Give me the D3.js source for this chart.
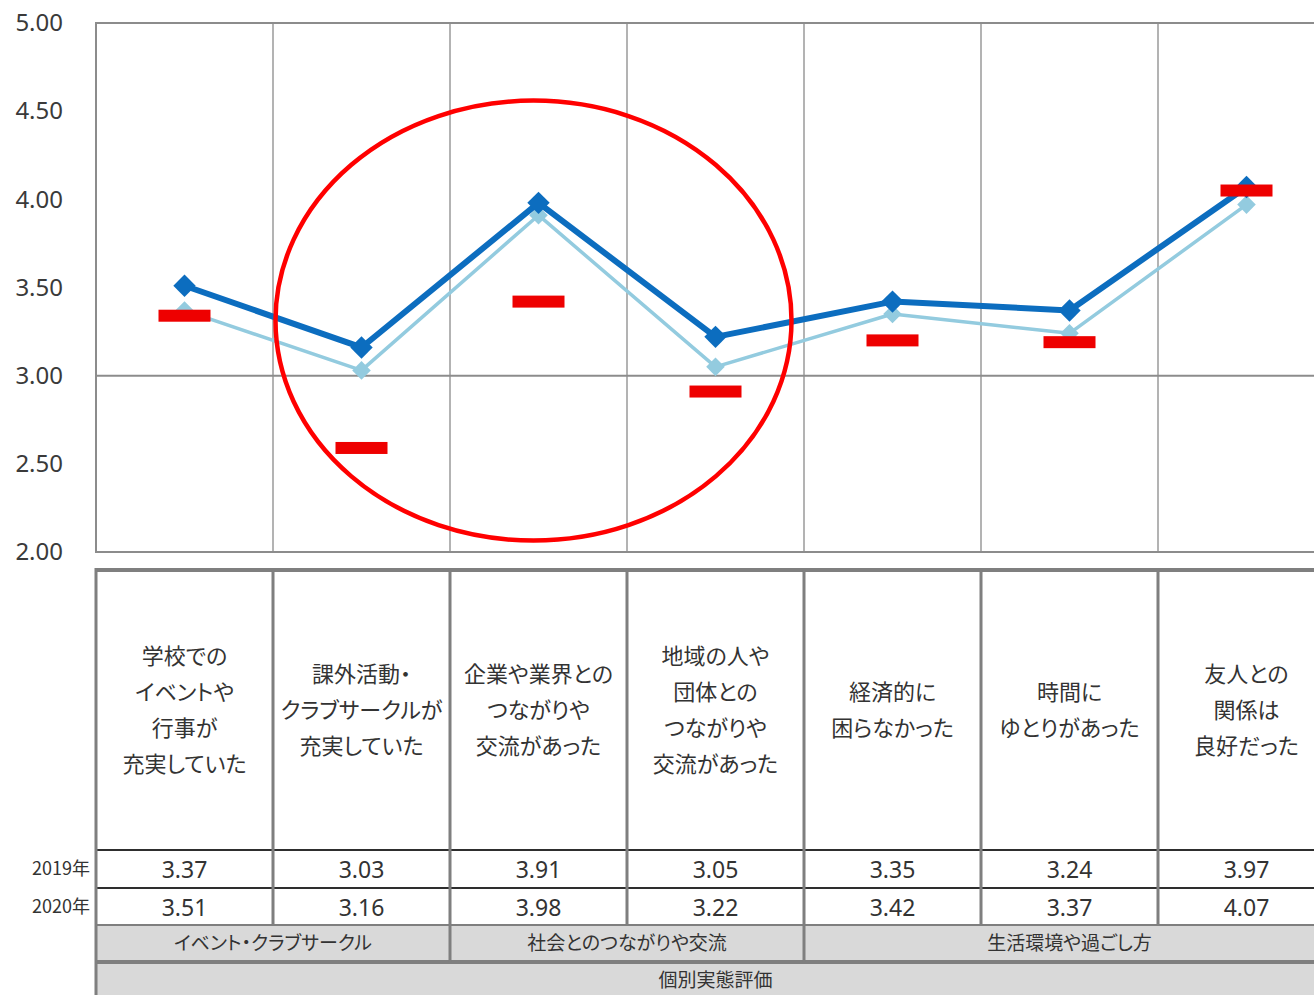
<!DOCTYPE html>
<html>
<head>
<meta charset="utf-8">
<script src="https://cdn.jsdelivr.net/npm/d3@7"></script>
<style>
  html, body { margin: 0; padding: 0; background: #fff; overflow: hidden; }
  svg { display: block; font-family: "Noto Sans CJK JP", "Noto Sans", sans-serif; }
  .jp { font-feature-settings: "palt" 1; }
</style>
</head>
<body>
<svg id="chart" width="1314" height="995"></svg>
<script>
// Survey items (each label split into its display lines)
const categories = [
  ["学校での", "イベントや", "行事が", "充実していた"],
  ["課外活動・", "クラブサークルが", "充実していた"],
  ["企業や業界との", "つながりや", "交流があった"],
  ["地域の人や", "団体との", "つながりや", "交流があった"],
  ["経済的に", "困らなかった"],
  ["時間に", "ゆとりがあった"],
  ["友人との", "関係は", "良好だった"]
];
const seriesNames = ["2019年", "2020年"];
const values2019 = [3.37, 3.03, 3.91, 3.05, 3.35, 3.24, 3.97];
const values2020 = [3.51, 3.16, 3.98, 3.22, 3.42, 3.37, 4.07];
const referenceValues = [3.34, 2.59, 3.42, 2.91, 3.20, 3.19, 4.05];
const yTicks = [2.00, 2.50, 3.00, 3.50, 4.00, 4.50, 5.00];
const groupLabels = ["イベント・クラブサークル", "社会とのつながりや交流", "生活環境や過ごし方"];
const groupSpans = [[0, 1], [2, 3], [4, 6]];
const overallLabel = "個別実態評価";

const svg = d3.select("#chart");
const left = 96, colW = 177;
const plotTop = 23, plotBottom = 552;
const right = left + colW * categories.length;

const x = d3.scaleBand().domain(d3.range(categories.length)).range([left, right]).padding(0);
const y = d3.scaleLinear().domain([2, 5]).range([plotBottom, plotTop]);
const cx = i => x(i) + x.bandwidth() / 2;

const gridColor = "#8c8c8c";

// ---------- plot area ----------
const plot = svg.append("g");

// vertical separators between items
plot.selectAll("line.vgrid").data(d3.range(1, categories.length + 1)).join("line")
  .attr("x1", i => x(i) ?? right).attr("x2", i => x(i) ?? right)
  .attr("y1", plotTop).attr("y2", plotBottom)
  .attr("stroke", "#9a9a9a").attr("stroke-width", 1.5);

// reference line at 3.00
plot.append("line")
  .attr("x1", left).attr("x2", right)
  .attr("y1", y(3)).attr("y2", y(3))
  .attr("stroke", gridColor).attr("stroke-width", 2);

// frame
plot.append("line").attr("x1", left).attr("x2", right).attr("y1", plotTop).attr("y2", plotTop)
  .attr("stroke", gridColor).attr("stroke-width", 2);
plot.append("line").attr("x1", left).attr("x2", right).attr("y1", plotBottom).attr("y2", plotBottom)
  .attr("stroke", gridColor).attr("stroke-width", 2);
plot.append("line").attr("x1", left).attr("x2", left).attr("y1", plotTop - 1).attr("y2", plotBottom + 1)
  .attr("stroke", gridColor).attr("stroke-width", 2);

// y axis labels
const yAxis = d3.axisLeft(y).tickValues(yTicks).tickFormat(d3.format(".2f")).tickSize(0).tickPadding(33);
const yG = svg.append("g").attr("transform", `translate(${left},0)`).call(yAxis);
yG.select(".domain").remove();
yG.selectAll("text")
  .attr("font-size", 24).attr("fill", "#3a3a3a")
  .attr("font-family", "'Noto Sans', sans-serif");

// lines
const line = d3.line().x((d, i) => cx(i)).y(d => y(d));
const diamond = d3.symbol().type(d3.symbolDiamond2);

plot.append("path").datum(values2019)
  .attr("d", line).attr("fill", "none")
  .attr("stroke", "#93cbdf").attr("stroke-width", 3.5).attr("stroke-linejoin", "round");
plot.selectAll("path.m2019").data(values2019).join("path")
  .attr("transform", (d, i) => `translate(${cx(i)},${y(d)})`)
  .attr("d", diamond.size(220)).attr("fill", "#93cbdf");

plot.append("path").datum(values2020)
  .attr("d", line).attr("fill", "none")
  .attr("stroke", "#0c6dbf").attr("stroke-width", 6).attr("stroke-linejoin", "round");
plot.selectAll("path.m2020").data(values2020).join("path")
  .attr("transform", (d, i) => `translate(${cx(i)},${y(d)})`)
  .attr("d", diamond.size(320)).attr("fill", "#0c6dbf");

// reference dashes
plot.selectAll("rect.ref").data(referenceValues).join("rect")
  .attr("x", (d, i) => cx(i) - 26).attr("y", d => y(d) - 6)
  .attr("width", 52).attr("height", 12)
  .attr("fill", "#ee0000");

// highlight ellipse around the social-connection items
const ellTop = y(4.56), ellBottom = y(2.065);
plot.append("ellipse")
  .attr("cx", (cx(1) + cx(3)) / 2 - 5).attr("cy", (ellTop + ellBottom) / 2)
  .attr("rx", 258).attr("ry", (ellBottom - ellTop) / 2)
  .attr("fill", "none").attr("stroke", "#ff0000").attr("stroke-width", 4.5);

// ---------- data table ----------
const tTop = 570, tLabelBottom = 850, tRow1 = 888, tRow2 = 925, tGroupBottom = 962, tBottom = 995;
const tableLine = "#7f7f7f";
const table = svg.append("g");

// grey background rows
table.append("rect").attr("x", left).attr("y", tRow2).attr("width", right - left).attr("height", tGroupBottom - tRow2).attr("fill", "#d9d9d9");
table.append("rect").attr("x", left).attr("y", tGroupBottom).attr("width", right - left).attr("height", tBottom - tGroupBottom).attr("fill", "#d9d9d9");

// row rules
table.append("line").attr("x1", left).attr("x2", right).attr("y1", tLabelBottom).attr("y2", tLabelBottom).attr("stroke", "#2e2e2e").attr("stroke-width", 2);
table.append("line").attr("x1", left).attr("x2", right).attr("y1", tRow1).attr("y2", tRow1).attr("stroke", "#2e2e2e").attr("stroke-width", 2);
table.append("line").attr("x1", left).attr("x2", right).attr("y1", tRow2).attr("y2", tRow2).attr("stroke", tableLine).attr("stroke-width", 2);
table.append("line").attr("x1", left).attr("x2", right).attr("y1", tGroupBottom).attr("y2", tGroupBottom).attr("stroke", tableLine).attr("stroke-width", 4);
table.append("line").attr("x1", left).attr("x2", right).attr("y1", tTop).attr("y2", tTop).attr("stroke", tableLine).attr("stroke-width", 4);

// column rules
table.selectAll("line.col").data(d3.range(1, categories.length)).join("line")
  .attr("x1", i => x(i)).attr("x2", i => x(i))
  .attr("y1", tTop).attr("y2", tRow2)
  .attr("stroke", tableLine).attr("stroke-width", 3);
table.selectAll("line.grp").data(groupSpans.slice(1)).join("line")
  .attr("x1", d => x(d[0])).attr("x2", d => x(d[0]))
  .attr("y1", tRow2).attr("y2", tGroupBottom)
  .attr("stroke", tableLine).attr("stroke-width", 3);
table.append("line").attr("x1", left).attr("x2", left).attr("y1", tTop - 2).attr("y2", tBottom)
  .attr("stroke", tableLine).attr("stroke-width", 3);

// item labels
const lineH = 36;
const labelMid = (tTop + tLabelBottom) / 2;
categories.forEach((lines, i) => {
  const t = table.append("text").attr("class", "jp")
    .attr("text-anchor", "middle").attr("font-size", 22).attr("fill", "#333");
  const y0 = labelMid - (lines.length - 1) * lineH / 2;
  lines.forEach((s, k) => {
    t.append("tspan").attr("x", cx(i)).attr("y", y0 + k * lineH).attr("dy", "0.35em").text(s);
  });
});

// value rows
[values2019, values2020].forEach((vals, r) => {
  const ym = r === 0 ? (tLabelBottom + tRow1) / 2 : (tRow1 + tRow2) / 2;
  table.append("text").attr("class", "jp")
    .attr("x", 90).attr("y", ym).attr("dy", "0.35em")
    .attr("text-anchor", "end").attr("font-size", 18).attr("fill", "#333")
    .text(seriesNames[r]);
  table.selectAll(null).data(vals).join("text")
    .attr("x", (d, i) => cx(i)).attr("y", ym + 1).attr("dy", "0.35em")
    .attr("text-anchor", "middle").attr("font-size", 23).attr("fill", "#333")
    .attr("font-family", "'Noto Sans', sans-serif")
    .text(d => d3.format(".2f")(d));
});

// group labels
table.selectAll("text.grp").data(groupLabels).join("text").attr("class", "jp")
  .attr("x", (d, i) => (x(groupSpans[i][0]) + (x(groupSpans[i][1]) + x.bandwidth())) / 2)
  .attr("y", (tRow2 + tGroupBottom) / 2).attr("dy", "0.35em")
  .attr("text-anchor", "middle").attr("font-size", 19).attr("fill", "#333")
  .text(d => d);

table.append("text").attr("class", "jp")
  .attr("x", (left + right) / 2).attr("y", (tGroupBottom + tBottom) / 2 + 2).attr("dy", "0.35em")
  .attr("text-anchor", "middle").attr("font-size", 19).attr("fill", "#333")
  .text(overallLabel);
</script>
</body>
</html>
